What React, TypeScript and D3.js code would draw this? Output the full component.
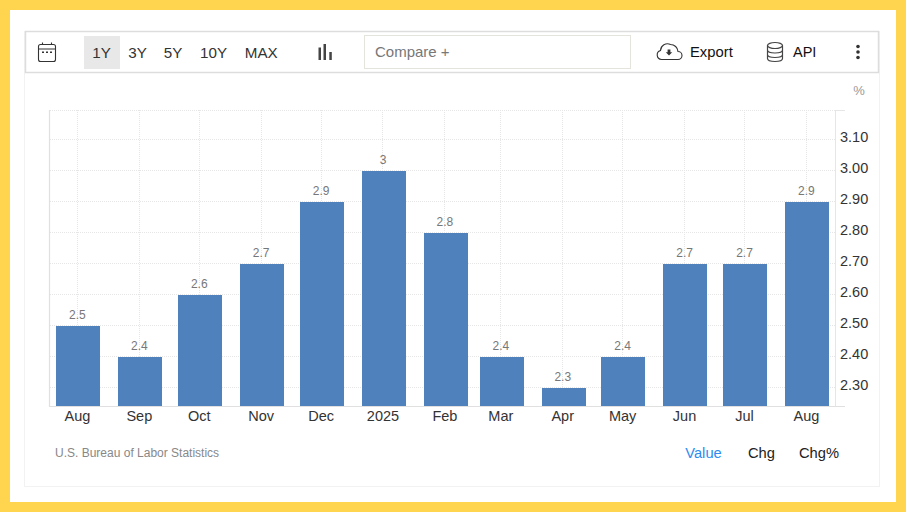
import React from "react";
import * as d3 from "d3";

const months = ["2024-08-01", "2024-09-01", "2024-10-01", "2024-11-01", "2024-12-01", "2025-01-01", "2025-02-01", "2025-03-01", "2025-04-01", "2025-05-01", "2025-06-01", "2025-07-01", "2025-08-01"];
const monthLabels = ["Aug", "Sep", "Oct", "Nov", "Dec", "2025", "Feb", "Mar", "Apr", "May", "Jun", "Jul", "Aug"];
const values = [2.5, 2.4, 2.6, 2.7, 2.9, 3, 2.8, 2.4, 2.3, 2.4, 2.7, 2.7, 2.9];
const yTicks = [2.3, 2.4, 2.5, 2.6, 2.7, 2.8, 2.9, 3.0, 3.1];
const ranges = ["1Y", "3Y", "5Y", "10Y", "MAX"];
const rangeX = [101.5, 137.5, 173, 213.5, 261.3];
const modes = ["Value", "Chg", "Chg%"];
const modeX = [703.5, 761.5, 819];

const FONT = "'Liberation Sans', Arial, sans-serif";
const parse = d3.utcParse("%Y-%m-%d");
const dates = months.map((m) => parse(m) as Date);

// monthly positions on a real time scale, so Feb comes out narrower
const x = d3.scaleUtc().domain([dates[0], dates[12]]).range([77.4, 806.4]);
const y = d3.scaleLinear().domain([2.3, 3.0]).range([387.5, 170.5]);
const BASE = 406;
const BAR_W = 44;

export default function App() {
  return (
    <svg width={906} height={512} style={{ position: "fixed", left: 0, top: 0, display: "block" }} fontFamily={FONT}>
      <rect width={906} height={512} fill="#ffd54f" />
      <rect x={10} y={10} width={886} height={492} fill="#fff" />
      {/* outer panel */}
      <rect x={24.5} y={31.5} width={855} height={455} fill="none" stroke="#f2f2f2" />

      {/* toolbar */}
      <rect x={25.5} y={31.5} width={853} height={41} fill="#fff" stroke="#dddddd" strokeWidth={1.5} />
      <g fill="none" stroke="#333" strokeWidth={1.1}>
        <rect x={38.5} y={44.5} width={17} height={17} rx={2} />
        <path d="M38.5 49H55.5M42.5 42.5V45M51.5 42.5V45" />
      </g>
      <path d="M42 51.5h2v1.5h-2zM46 51.5h2v1.5h-2zM50 51.5h2v1.5h-2z" fill="#333" />

      <rect x={84} y={36} width={36} height={33} fill="#e8e8e8" />
      {ranges.map((r, i) => (
        <text key={r} x={rangeX[i]} y={58} textAnchor="middle" fontSize={15.2} fill="#333">{r}</text>
      ))}
      <path d="M318.5 47.5h2.5V60h-2.5zM323.5 44h2.5v16h-2.5zM329.3 52h2.5v8h-2.5z" fill="#444" />

      <rect x={364.5} y={35.5} width={266} height={33} fill="#fff" stroke="#e4e4dc" />
      <text x={375} y={57} fontSize={15} fill="#777">Compare +</text>

      <path d="M663 59.5h-1.5a4.6 4.6 0 0 1 -1 -9a7 7 0 0 1 10 -6a7.5 7.5 0 0 1 7.5 7a3.8 3.8 0 0 1 0 8z" fill="none" stroke="#333" strokeWidth={1.1} />
      <path d="M667.6 49.5h2.8v3h-2.8zM665.8 52.2h6.4l-3.2 3.3z" fill="#333" />
      <text x={690} y={57} fontSize={14.8} fill="#111">Export</text>

      <g fill="none" stroke="#444" strokeWidth={1.2}>
        <ellipse cx={775} cy={45.5} rx={7.5} ry={3} />
        <path d="M767.5 45.5V58.5C767.5 60.5 771 61.5 775 61.5S782.5 60.5 782.5 58.5V45.5M767.5 50C767.5 52 771 53 775 53S782.5 52 782.5 50M767.5 54.5C767.5 56.5 771 57.5 775 57.5S782.5 56.5 782.5 54.5" />
      </g>
      <text x={793} y={57} fontSize={14.5} fill="#111">API</text>
      <circle cx={858} cy={46.5} r={1.8} fill="#333" />
      <circle cx={858} cy={52} r={1.8} fill="#333" />
      <circle cx={858} cy={57.5} r={1.8} fill="#333" />

      <text x={859} y={95} textAnchor="middle" fontSize={13} fill="#999">%</text>

      {/* grid */}
      <g stroke="#e6e6e6" strokeDasharray="1 1" fill="none">
        <line x1={50} x2={835} y1={110.5} y2={110.5} />
        {yTicks.map((t) => (
          <line key={t} x1={50} x2={835} y1={Math.floor(y(t)) + 0.5} y2={Math.floor(y(t)) + 0.5} />
        ))}
        {dates.map((d, i) => (
          <line key={i} x1={Math.floor(x(d)) + 0.5} x2={Math.floor(x(d)) + 0.5} y1={110} y2={BASE} />
        ))}
      </g>

      {/* bars */}
      {values.map((v, i) => {
        const top = Math.round(y(v) + 0.5);
        return <rect key={i} x={Math.round(x(dates[i]) - 21.2)} y={top} width={BAR_W} height={BASE - top} fill="#4f81bd" />;
      })}
      {values.map((v, i) => (
        <text key={i} x={x(dates[i])} y={y(v) - 7} textAnchor="middle" fontSize={12} fill="#777">{v}</text>
      ))}

      {/* axes */}
      <path d="M49.5 110V406.5H845" fill="none" stroke="#e0e0e0" strokeWidth={1.2} />
      <path d="M835.5 110V406M835 110.5H845" fill="none" stroke="#e6e6e6" />
      {yTicks.map((t) => (
        <text key={t} x={840} y={y(t) + 2.5} fontSize={14.5} fill="#333">{d3.format(".2f")(t)}</text>
      ))}
      {dates.map((d, i) => (
        <text key={i} x={x(d)} y={421} textAnchor="middle" fontSize={14.5} fill="#333">{monthLabels[i]}</text>
      ))}

      {/* footer */}
      <text x={55} y={457} fontSize={12} fill="#888">U.S. Bureau of Labor Statistics</text>
      {modes.map((m, i) => (
        <text key={m} x={modeX[i]} y={458} textAnchor="middle" fontSize={14.7} fill={i === 0 ? "#2d8cf0" : "#222"}>{m}</text>
      ))}
    </svg>
  );
}
